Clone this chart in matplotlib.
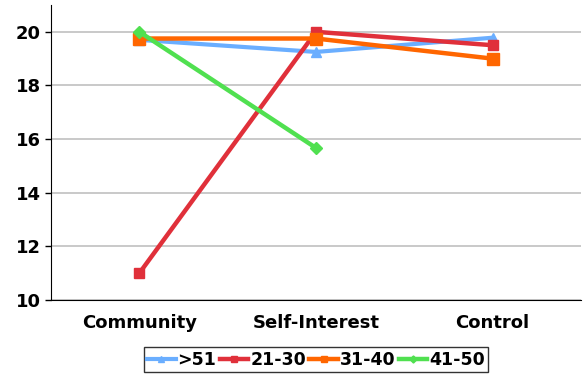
import matplotlib.pyplot as plt

categories = ['Community', 'Self-Interest', 'Control']
over_51 = [19.7, 19.25, 19.78]
age_21_30 = [11.0, 20.0, 19.5]
age_31_40 = [19.75, 19.75, 19.0]
age_41_50 = [20.0, 15.67]

fig = plt.figure(figsize=(5.83, 3.74), dpi=100)
ax = fig.add_axes([51 / 583, 1 - 300 / 374, 530 / 583, 295 / 374])

x = range(len(categories))
ax.plot(x, over_51, color='#6aaeff', lw=3, marker='^', ms=7, label='>51')
ax.plot(x, age_21_30, color='#e0303a', lw=3.2, marker='s', ms=7, label='21-30')
ax.plot(x, age_31_40, color='#ff6600', lw=3.2, marker='s', ms=8, label='31-40')
ax.plot(range(len(age_41_50)), age_41_50, color='#50e050', lw=3.2, marker='D', ms=6, label='41-50')

ax.set_xlim(-0.5, 2.5)
ax.set_ylim(10, 21)
ax.set_yticks(range(10, 21, 2))
ax.set_xticks(list(x))
ax.set_xticklabels(categories, fontsize=13, fontweight='bold')
ax.tick_params(axis='y', labelsize=13, length=4, width=1)
ax.tick_params(axis='x', length=0, pad=10)
for lbl in ax.get_yticklabels():
    lbl.set_fontweight('bold')
ax.yaxis.grid(True, color='#c0c0c0', lw=1.2)
ax.set_axisbelow(True)
for s in ['top', 'right']:
    ax.spines[s].set_visible(False)

leg = fig.legend(loc='lower center', bbox_to_anchor=(316 / 583, 0.0), ncol=4,
                 frameon=True, fancybox=False, edgecolor='black',
                 prop={'weight': 'bold', 'size': 12.5}, handlelength=1.65,
                 handletextpad=0.1, columnspacing=0.2, borderpad=0.2,
                 borderaxespad=0.1, markerscale=0.6)
leg.get_frame().set_linewidth(1)

fig.savefig('out.png', dpi=100)
